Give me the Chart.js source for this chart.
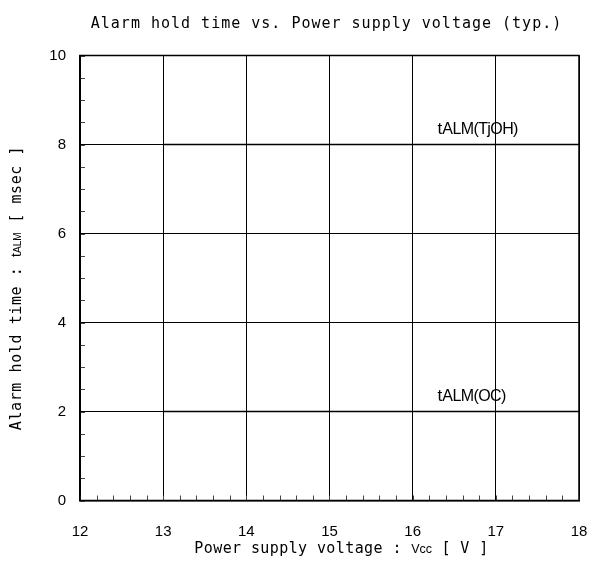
<!DOCTYPE html>
<html>
<head>
<meta charset="utf-8">
<script src="https://cdn.jsdelivr.net/npm/chart.js@4"></script>
<style>
  html, body { margin: 0; padding: 0; background: #fff; }
  #wrap { width: 590px; height: 570px; }
</style>
</head>
<body>
<div id="wrap"><canvas id="chart" width="590" height="570"></canvas></div>
<script>
// ====== DATA ======
const voltage = [13, 18];
const tjohTime = [8, 8];
const ocTime = [2, 2];
const seriesNames = ["tALM(TjOH)", "tALM(OC)"];
const xTicks = [12, 13, 14, 15, 16, 17, 18];
const yTicks = [0, 2, 4, 6, 8, 10];
const chartTitle = "Alarm hold time vs. Power supply voltage (typ.)";
const xTitle = ["Power supply voltage : ", "Vcc", " [ V ]"];
const yTitle = ["Alarm hold time : ", "t", "ALM", " [ msec ]"];

// ====== FONTS ======
const gothic = "'DejaVu Sans Mono', monospace";
const sans = "'Liberation Sans', Arial, sans-serif";

function toPoints(xs, ys) {
  return xs.map((x, i) => ({ x: x, y: ys[i] }));
}

// draw a row of text pieces with different fonts one after another
function drawRuns(ctx, runs, x, y, align) {
  let total = 0;
  runs.forEach(r => {
    ctx.font = r.font;
    ctx.letterSpacing = (r.sp || 0) + "px";
    r.w = ctx.measureText(r.text).width;
    total += r.w;
  });
  let cx = align === "center" ? x - total / 2 : x;
  ctx.textAlign = "left";
  ctx.textBaseline = "alphabetic";
  runs.forEach(r => {
    ctx.font = r.font;
    ctx.letterSpacing = (r.sp || 0) + "px";
    ctx.fillText(r.text, cx, y);
    cx += r.w;
  });
  ctx.letterSpacing = "0px";
}

// ====== EXTRAS: frame, minor ticks, labels, titles ======
const extras = {
  id: "extras",
  afterDraw(chart) {
    const ctx = chart.ctx;
    const a = chart.chartArea;
    const xs = chart.scales.x;
    const ys = chart.scales.y;
    ctx.save();

    // minor ticks inside the frame
    ctx.strokeStyle = "#444";
    ctx.lineWidth = 1;
    ctx.beginPath();
    for (let v = xs.min; v <= xs.max + 1e-9; v += 0.2) {
      const px = Math.round(xs.getPixelForValue(v)) + 0.5;
      ctx.moveTo(px, a.bottom);
      ctx.lineTo(px, a.bottom - 5);
    }
    for (let v = ys.min; v <= ys.max + 1e-9; v += 0.5) {
      const py = Math.round(ys.getPixelForValue(v)) + 0.5;
      ctx.moveTo(a.left, py);
      ctx.lineTo(a.left + 5, py);
    }
    ctx.stroke();

    // frame
    ctx.strokeStyle = "#000";
    ctx.lineWidth = 1.5;
    ctx.strokeRect(a.left, a.top, a.right - a.left, a.bottom - a.top);

    ctx.fillStyle = "#000";

    // series labels
    const labelAt = 16.3;
    const levels = [tjohTime[tjohTime.length - 1], ocTime[ocTime.length - 1]];
    seriesNames.forEach((name, i) => {
      const px = xs.getPixelForValue(labelAt);
      const py = ys.getPixelForValue(levels[i]) - 11;
      drawRuns(ctx, [
        { text: name.slice(0, 1), font: "17px " + sans },
        { text: name.slice(1), font: "16px " + sans, sp: -0.6 }
      ], px, py, "left");
    });

    // chart title
    drawRuns(ctx, [{ text: chartTitle, font: "15px " + gothic, sp: 1 }],
      (a.left + a.right) / 2 - 3, 28, "center");

    // x axis title
    drawRuns(ctx, [
      { text: xTitle[0], font: "15px " + gothic, sp: 0.4 },
      { text: xTitle[1], font: "12.5px " + sans },
      { text: xTitle[2], font: "15px " + gothic, sp: 0.4 }
    ], (a.left + a.right) / 2 + 12, 553, "center");

    // y axis title (rotated)
    ctx.translate(21, (a.top + a.bottom) / 2 + 10);
    ctx.rotate(-Math.PI / 2);
    drawRuns(ctx, [
      { text: yTitle[0], font: "15px " + gothic, sp: 0.6 },
      { text: yTitle[1], font: "14px " + sans },
      { text: yTitle[2], font: "10px " + sans },
      { text: yTitle[3], font: "15px " + gothic, sp: 0.6 }
    ], 0, 0, "center");

    ctx.restore();
  }
};

// ====== CHART ======
const chart = new Chart(document.getElementById("chart"), {
  type: "line",
  data: {
    datasets: [
      { label: seriesNames[0], data: toPoints(voltage, tjohTime) },
      { label: seriesNames[1], data: toPoints(voltage, ocTime) }
    ]
  },
  options: {
    responsive: false,
    animation: false,
    layout: { padding: { top: 55.5, right: 11, bottom: 0, left: 0 } },
    elements: {
      line: { borderColor: "#000", borderWidth: 1.6, tension: 0 },
      point: { radius: 0 }
    },
    plugins: {
      legend: { display: false },
      title: { display: false },
      tooltip: { enabled: false }
    },
    scales: {
      x: {
        type: "linear",
        min: xTicks[0],
        max: xTicks[xTicks.length - 1],
        afterFit(scale) {
          scale.height = 69.5;
          scale.paddingLeft = 0;
          scale.paddingRight = 0;
        },
        afterBuildTicks(scale) { scale.ticks = xTicks.map(v => ({ value: v })); },
        grid: { color: "#000", lineWidth: 1, drawTicks: false },
        border: { color: "#000", width: 1.5 },
        ticks: {
          color: "#000",
          padding: 22,
          maxRotation: 0,
          font: { family: sans, size: 15 }
        }
      },
      y: {
        type: "linear",
        min: yTicks[0],
        max: yTicks[yTicks.length - 1],
        afterFit(scale) {
          scale.width = 80;
          scale.paddingTop = 0;
          scale.paddingBottom = 0;
        },
        afterBuildTicks(scale) { scale.ticks = yTicks.map(v => ({ value: v })); },
        grid: { color: "#000", lineWidth: 1, drawTicks: false },
        border: { color: "#000", width: 1.5 },
        ticks: {
          color: "#000",
          padding: 14,
          font: { family: sans, size: 15 }
        }
      }
    }
  },
  plugins: [extras]
});
</script>
</body>
</html>
